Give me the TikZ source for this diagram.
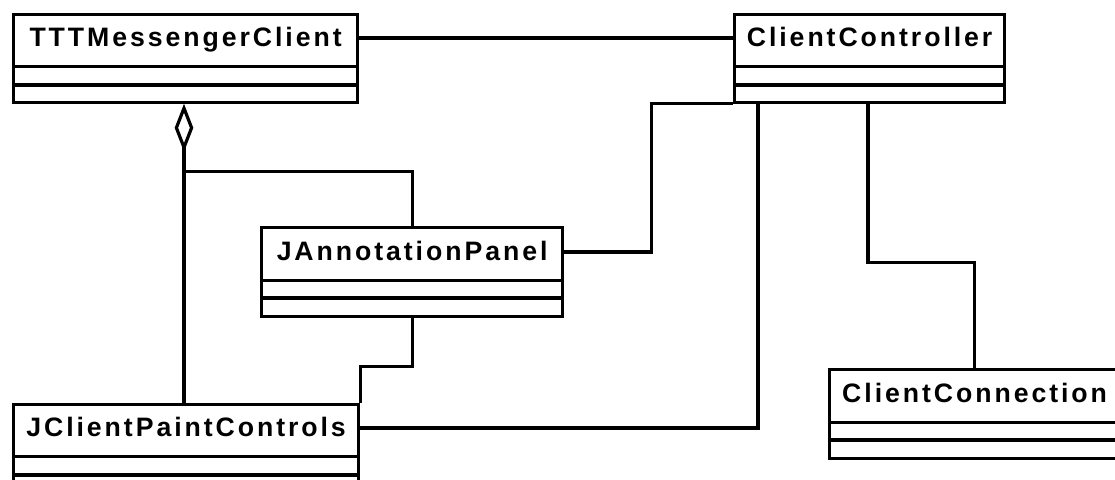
\documentclass[tikz,border=0pt]{standalone}
\usepackage{fontspec}
\usetikzlibrary{shapes.multipart,arrows.meta,calc}
\newfontfamily\umlfont{Liberation Sans}[LetterSpace=11]
\tikzset{
  classbox/.style={rectangle split, rectangle split parts=3, draw, line width=2.4pt,
    inner xsep=0pt, inner ysep=0pt, anchor=north west,
    font=\umlfont\bfseries\fontsize{20pt}{23pt}\selectfont},
  assoc/.style={line width=2.4pt},
  aggr/.style={line width=2.4pt, {Diamond[open, length=36pt, width=14pt]}-}
}
\begin{document}
\begin{tikzpicture}[x=0.75pt,y=-0.75pt]
\useasboundingbox (0,0) rectangle (1115,479);

%Class: TTTMessengerClient
\node[classbox] (messenger) at (12,13) {\makebox[258pt]{\rule[-14.25pt]{0pt}{36.75pt}TTTMessengerClient}\nodepart{two}\rule{0pt}{11.25pt}\nodepart{three}\rule{0pt}{10.5pt}};
%Class: ClientController
\node[classbox] (controller) at (733,13) {\makebox[202.5pt]{\rule[-14.25pt]{0pt}{36.75pt}ClientController}\nodepart{two}\rule{0pt}{11.25pt}\nodepart{three}\rule{0pt}{10.5pt}};
%Class: JAnnotationPanel
\node[classbox] (panel) at (260,226) {\makebox[225.75pt]{\rule[-14.25pt]{0pt}{37.5pt}JAnnotationPanel}\nodepart{two}\rule{0pt}{10.5pt}\nodepart{three}\rule{0pt}{11.25pt}};
%Class: JClientPaintControls
\node[classbox] (paint) at (12,403) {\makebox[258.75pt]{\rule[-14.25pt]{0pt}{36.75pt}JClientPaintControls}\nodepart{two}\rule{0pt}{11.25pt}\nodepart{three}\rule{0pt}{10.5pt}};
%Class: ClientConnection
\node[classbox] (connection) at (828,368) {\makebox[217.5pt]{\rule[-14.25pt]{0pt}{37.5pt}ClientConnection}\nodepart{two}\rule{0pt}{10.5pt}\nodepart{three}\rule{0pt}{11.25pt}};

\coordinate (agg) at ([xshift=129pt]messenger.south west);
\coordinate (aggend) at ([xshift=129pt]paint.north west);

%Straight Lines
\draw[assoc] ([yshift=-18.75pt]messenger.north east) -- ([yshift=-18.75pt]controller.north west);
%Aggregation
\draw[aggr] (agg) -- ++(0,96);
\draw[assoc] (agg) ++(0,68) -| (panel.north);
\draw[assoc] (aggend) -- ++(0,-208);
%Straight Lines
\draw[assoc] ([yshift=-19.5pt]panel.north east) -- ++(87,0) |- (controller.south west);
\draw[assoc] ([xshift=18.75pt]controller.south west) |- ([yshift=-18.75pt]paint.north east);
\draw[assoc] ([xshift=101.25pt]controller.south west) -- ++(0,159) -| (connection.north);
\draw[assoc] (panel.south) -- ++(0,49) -| (paint.north east);

\end{tikzpicture}
\end{document}
